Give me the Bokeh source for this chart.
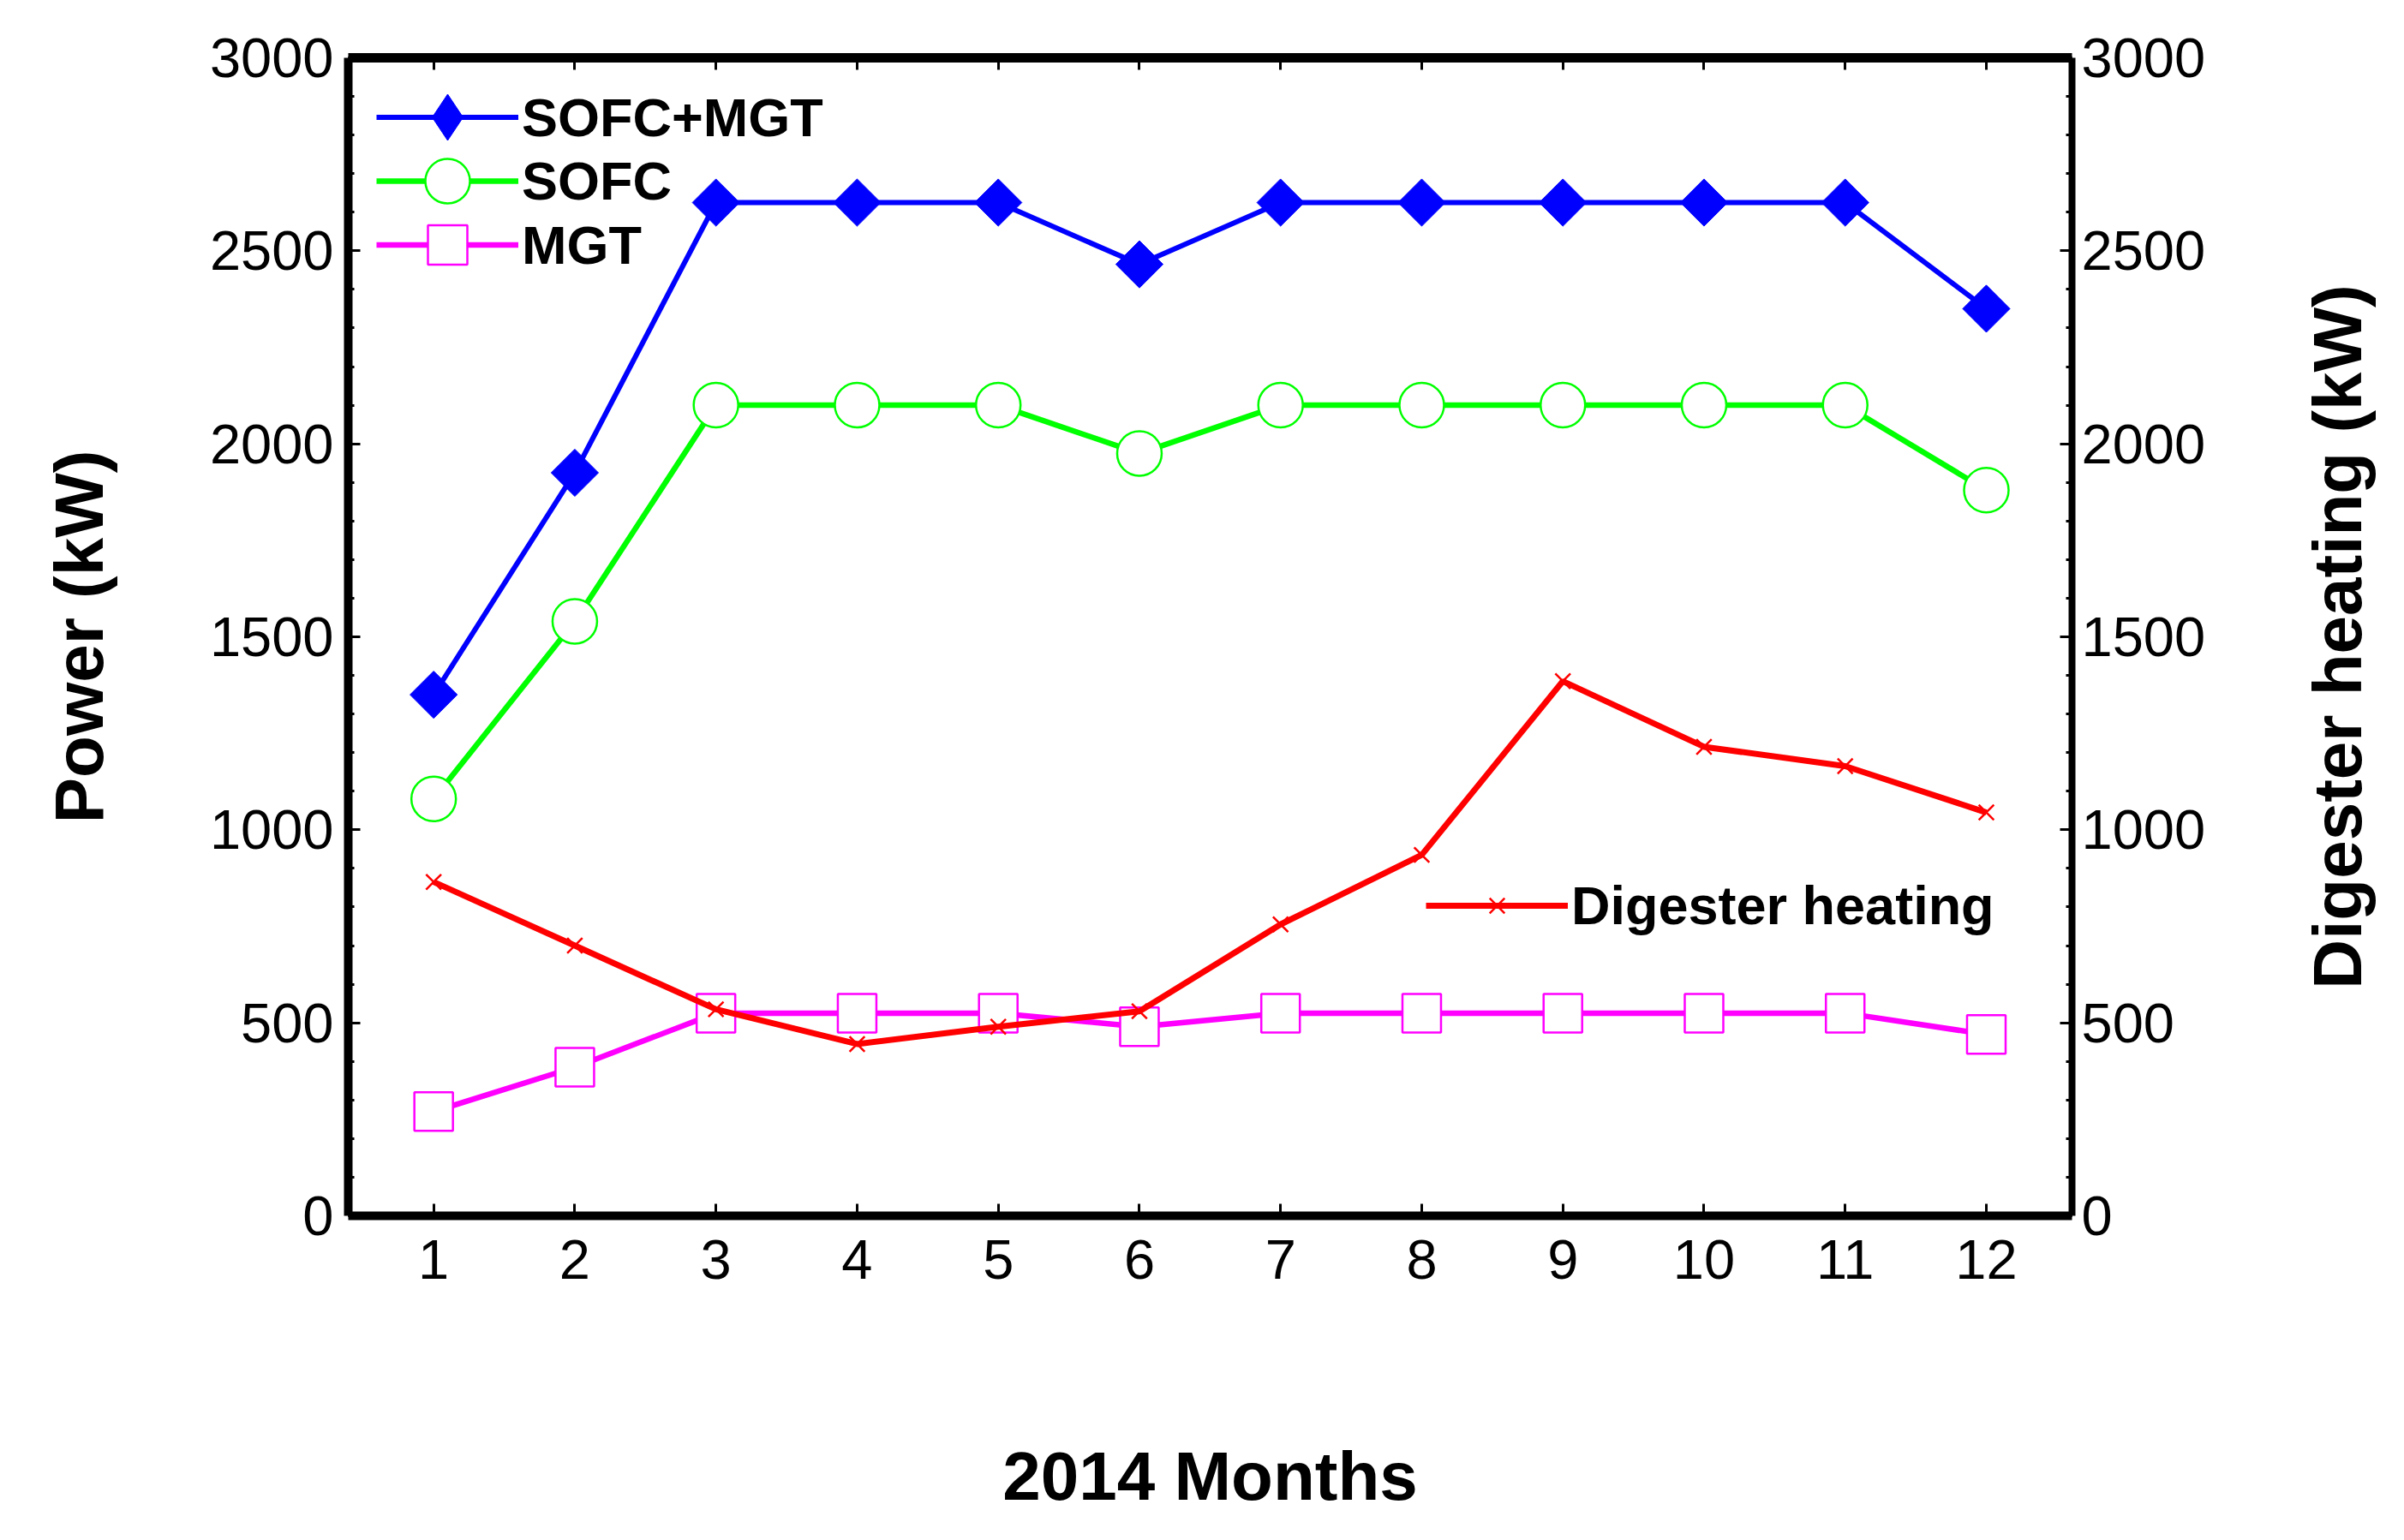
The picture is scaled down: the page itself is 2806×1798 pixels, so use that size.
import math
from bokeh.plotting import figure
from bokeh.layouts import row
from bokeh.models import (Range1d, LinearAxis, FixedTicker, Legend, LegendItem)
from bokeh.embed import file_html
from bokeh.resources import INLINE

# ---- data ----
months = [1, 2, 3, 4, 5, 6, 7, 8, 9, 10, 11, 12]
sofc_mgt = [1350, 1925, 2625, 2625, 2625, 2465, 2625, 2625, 2625, 2625, 2625, 2350]
sofc = [1080, 1540, 2100, 2100, 2100, 1975, 2100, 2100, 2100, 2100, 2100, 1880]
mgt = [270, 385, 525, 525, 525, 490, 525, 525, 525, 525, 525, 470]
digester_heating = [865, 700, 535, 445, 490, 530, 755, 935, 1385, 1215, 1165, 1045]
y_ticks = [0, 500, 1000, 1500, 2000, 2500, 3000]
y_minor = list(range(0, 3001, 100))

FONT = "Liberation Sans"
BLUE, GREEN, MAGENTA, RED = "#0000FF", "#00FF00", "#FF00FF", "#FF0000"

p = figure(width=2640, height=1782,
           x_range=Range1d(0.395, 12.607), y_range=Range1d(0, 3000),
           output_backend="svg", toolbar_location=None,
           min_border_left=406, min_border_right=222,
           min_border_top=67, min_border_bottom=363)
p.extra_y_ranges = {"heat": Range1d(0, 3000)}
p.xgrid.visible = False
p.ygrid.visible = False
p.outline_line_color = None
p.background_fill_color = "white"
p.border_fill_color = "white"

xt = FixedTicker(ticks=months, minor_ticks=[])
yt = FixedTicker(ticks=y_ticks, minor_ticks=y_minor)

def style_axis(ax, width):
    ax.axis_line_width = width
    ax.axis_line_color = "black"
    ax.major_tick_in = 14
    ax.major_tick_out = 0
    ax.minor_tick_in = 7
    ax.minor_tick_out = 0
    ax.major_tick_line_width = 3
    ax.minor_tick_line_width = 3
    ax.major_label_text_font = FONT
    ax.major_label_text_font_size = "65px"
    ax.major_label_text_color = "black"
    ax.axis_label_text_font = FONT
    ax.axis_label_text_font_size = "80px"
    ax.axis_label_text_font_style = "bold"
    ax.axis_label_text_color = "black"

# bottom axis
xa = p.xaxis[0]
xa.ticker = xt
style_axis(xa, 10)
xa.axis_label = "2014 Months"
xa.major_label_standoff = 28
xa.axis_label_standoff = 183

# left axis
ya = p.yaxis[0]
ya.ticker = yt
style_axis(ya, 10)
ya.axis_label = "Power (kW)"
ya.major_label_standoff = 17
ya.axis_label_standoff = 105

# top axis (ticks only, labels not drawn)
ta = LinearAxis(ticker=xt)
style_axis(ta, 11)
ta.major_label_text_font_size = "10px"
ta.major_label_text_color = None
ta.major_label_standoff = 0
p.add_layout(ta, "above")

# right axis (ticks and labels)
ra = LinearAxis(y_range_name="heat", ticker=yt)
style_axis(ra, 8)
ra.major_label_standoff = 11
p.add_layout(ra, "right")

# ---- series ----
l1 = p.line(months, sofc_mgt, line_color=BLUE, line_width=6)
d1 = p.scatter(months, sofc_mgt, marker="diamond", size=30,
               fill_color=BLUE, line_color=BLUE)
s1 = p.scatter(months, sofc_mgt, marker="square", angle=math.pi / 4, size=39,
               fill_color=BLUE, line_color=BLUE, line_width=1)

l2 = p.line(months, sofc, line_color=GREEN, line_width=6.5)
s2 = p.scatter(months, sofc, marker="circle", size=52,
               fill_color="white", line_color=GREEN, line_width=2.5)

l3 = p.line(months, mgt, line_color=MAGENTA, line_width=6.5)
s3 = p.scatter(months, mgt, marker="square", size=45,
               fill_color="white", line_color=MAGENTA, line_width=2.5)

l4 = p.line(months, digester_heating, line_color=RED, line_width=7, y_range_name="heat")
s4 = p.scatter(months, digester_heating, marker="x", size=25,
               line_color=RED, line_width=2.5, y_range_name="heat")

def add_legend(label, rends, g, loc):
    lg = Legend(items=[LegendItem(label=label, renderers=rends)],
                location=loc, orientation="vertical",
                glyph_width=166, glyph_height=g, label_height=g,
                label_standoff=4, padding=0, margin=0, spacing=0,
                border_line_color=None, background_fill_alpha=0,
                label_text_font=FONT, label_text_font_size="63px",
                label_text_font_style="bold", label_text_color="black",
                label_text_baseline="middle")
    p.add_layout(lg, "center")

add_legend("SOFC+MGT", [l1, d1], 135, (33, 1215))
add_legend("SOFC", [l2, s2], 130, (33, 1143))
add_legend("MGT", [l3, s3], 115, (33, 1076))
add_legend("Digester heating", [l4, s4], 62, (1258, 326))

# ---- right-hand title panel (reads bottom to top) ----
p2 = figure(width=150, height=1782, x_range=Range1d(0, 1), y_range=Range1d(0, 3000),
            output_backend="svg", toolbar_location=None, x_axis_location=None,
            min_border_left=132, min_border_right=0,
            min_border_top=67, min_border_bottom=363)
p2.xgrid.visible = False
p2.ygrid.visible = False
p2.outline_line_color = None
p2.border_fill_color = "white"
p2.background_fill_color = "white"
ta2 = p2.yaxis[0]
ta2.ticker = FixedTicker(ticks=[], minor_ticks=[])
ta2.axis_label = "Digester heating (kW)"
ta2.axis_label_text_font = FONT
ta2.axis_label_text_font_size = "80px"
ta2.axis_label_text_font_style = "bold"
ta2.axis_label_text_color = "black"
ta2.axis_label_standoff = 0
ta2.axis_line_color = None
ta2.major_tick_line_color = None
ta2.minor_tick_line_color = None
ta2.major_label_text_color = None
ta2.major_label_standoff = 0
ta2.major_tick_in = 0
ta2.major_tick_out = 0
ta2.minor_tick_in = 0
ta2.minor_tick_out = 0

layout = row(p, p2)
open("out.html", "w").write(file_html(layout, INLINE))
